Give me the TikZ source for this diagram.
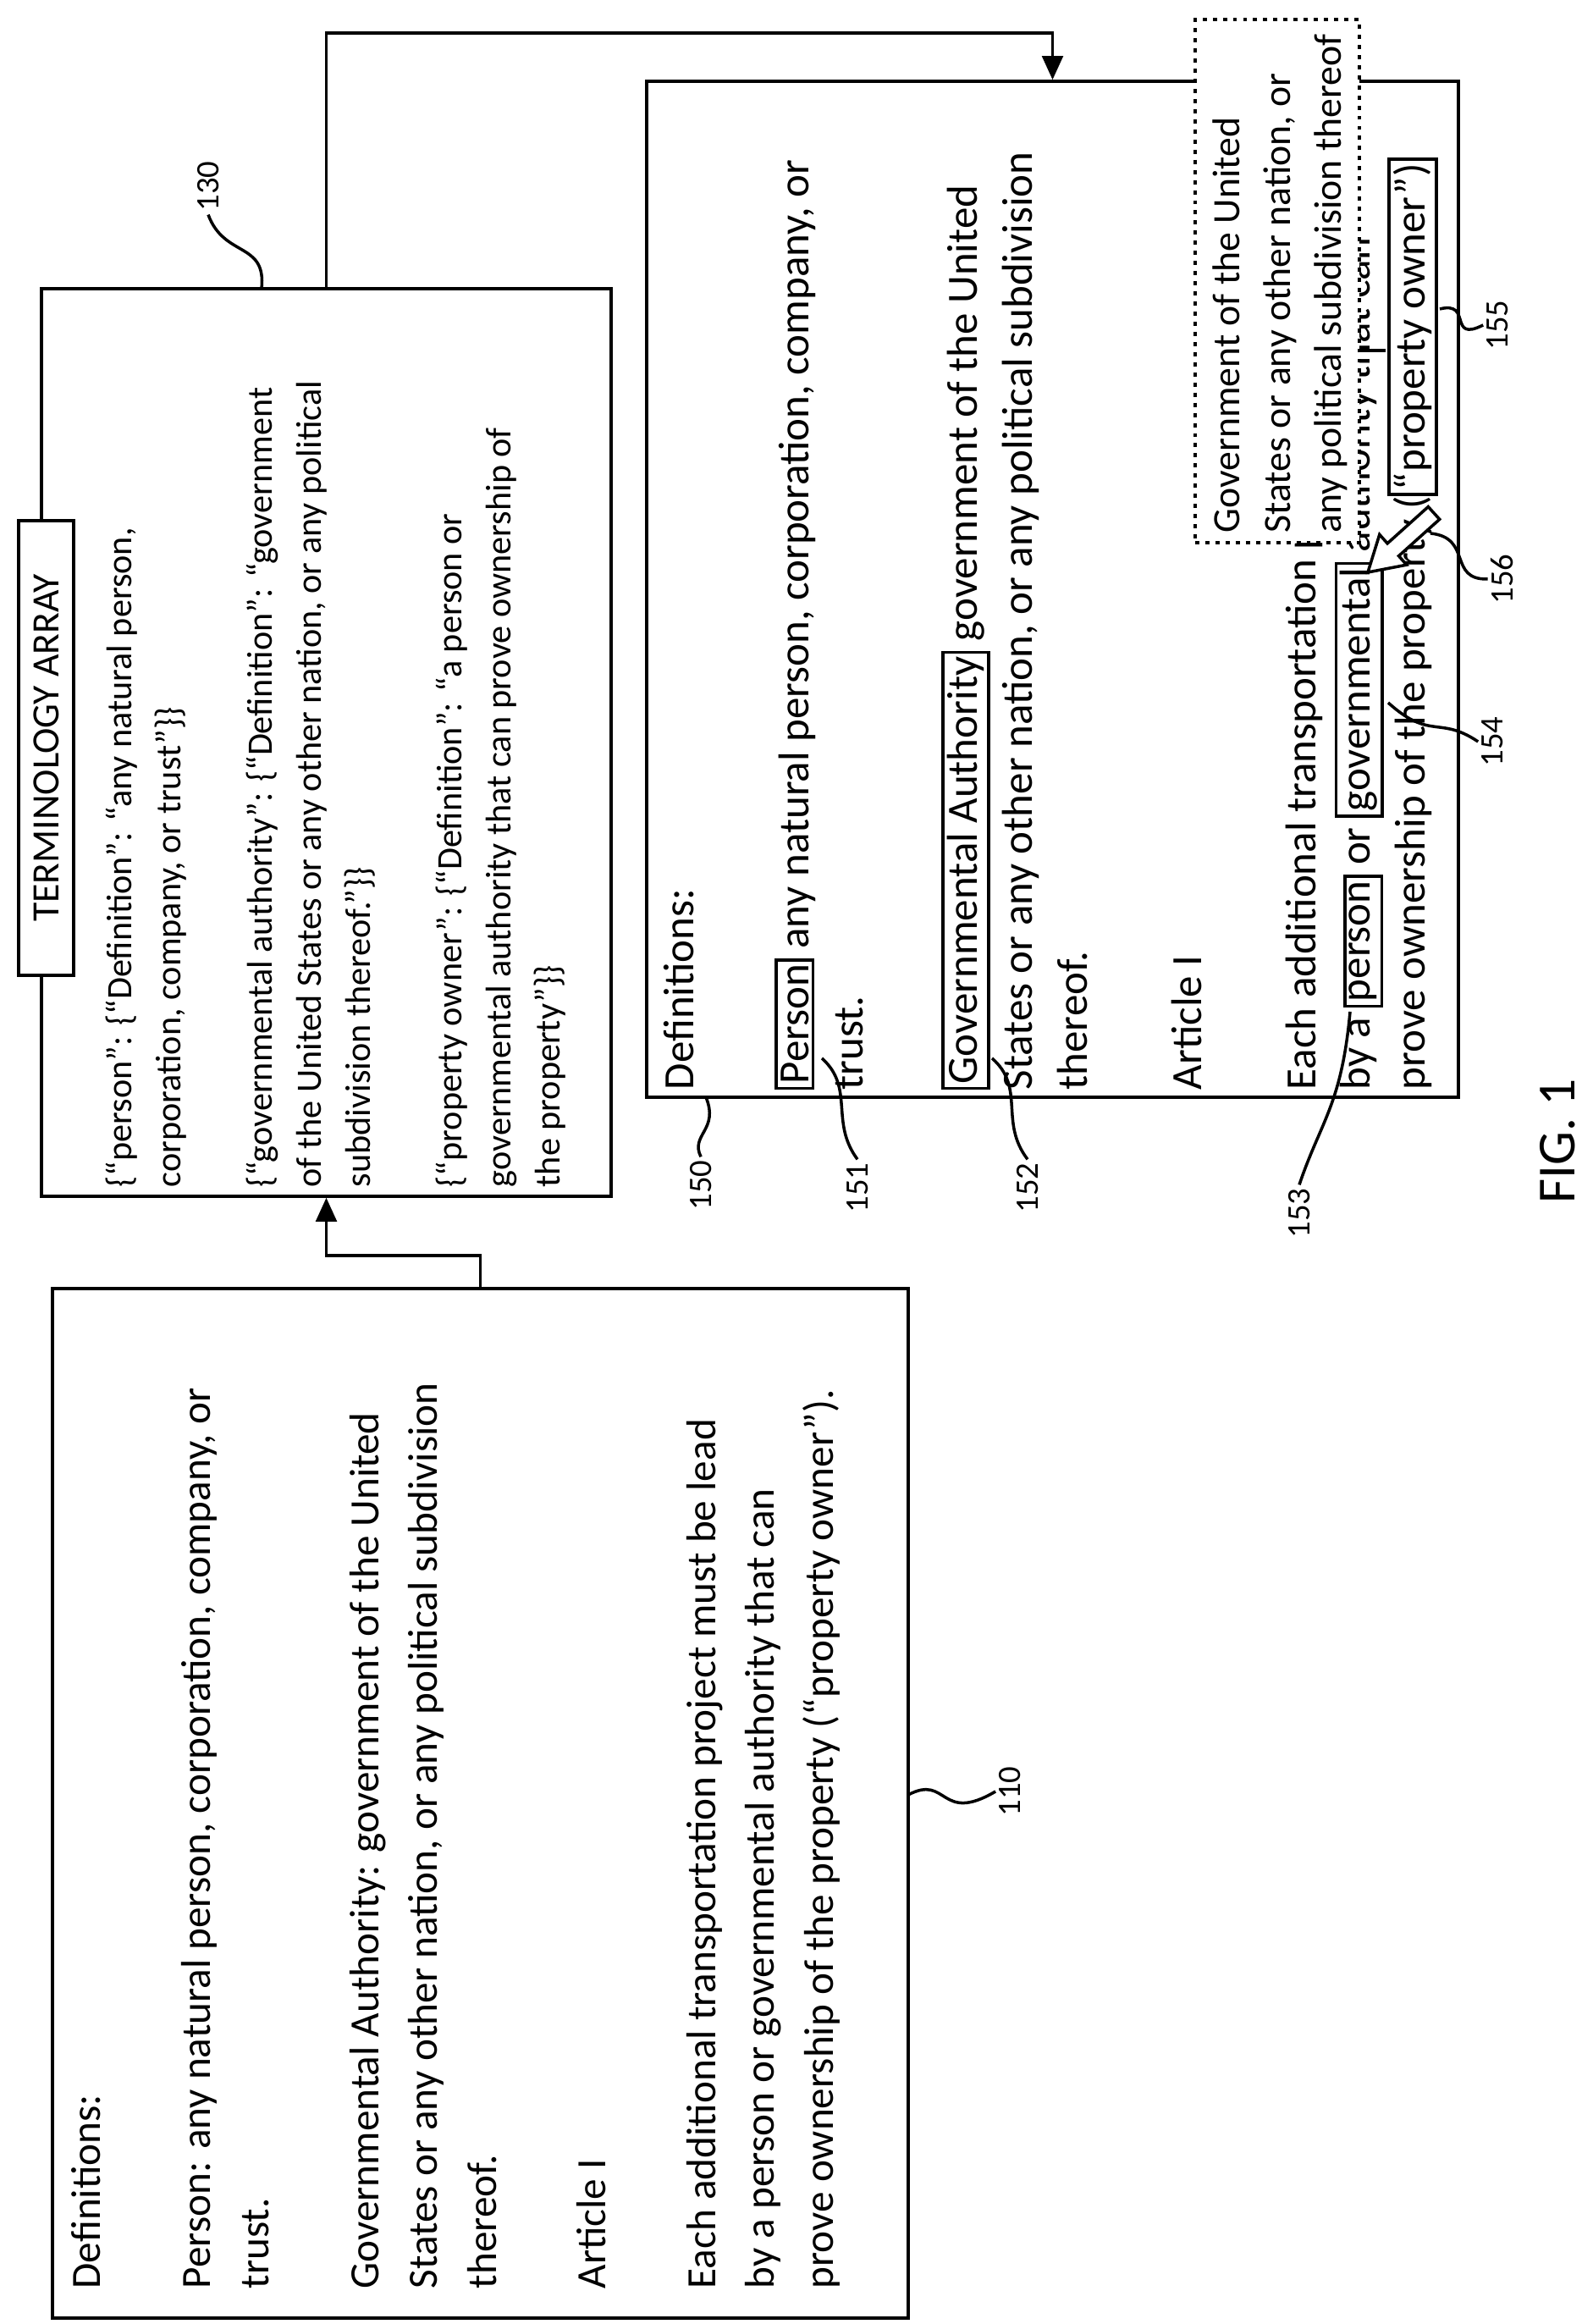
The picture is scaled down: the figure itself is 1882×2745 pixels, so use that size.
\documentclass[tikz,border=0pt]{standalone}
\usepackage{fontspec}
\setmainfont{Carlito}
\usetikzlibrary{fit,arrows.meta}
\begin{document}
\begin{tikzpicture}[x=0.01cm,y=0.01cm,
  box/.style={draw,line width=1pt,inner sep=0pt},
  popbox/.style={draw,dotted,line width=1.4pt,fill=white,inner sep=0pt},
  txt/.style={rotate=90,anchor=north west,align=left,inner sep=0pt},
  lbl/.style={rotate=90,inner sep=1pt,font=\fontsize{11}{12}\selectfont},
  lead/.style={line width=1pt},
  conn/.style={line width=1pt,-{Triangle[length=8pt,width=7pt]}}]
\useasboundingbox (0,0) rectangle (1882,2745);
\fboxrule=1pt \fboxsep=1pt
% box 110
\node[box,fit={(62,7)(1073,1223)}] (b110) {};
\node[txt,font=\fontsize{14}{19.8}\selectfont] (t110) at (84,41) {Definitions:\\[17pt]
Person: any natural person, corporation, company, or\\
trust.\\[17pt]
Governmental Authority: government of the United\\
States or any other nation, or any political subdivision\\
thereof.\\[17pt]
Article I\\[17pt]
Each additional transportation project must be lead\\
by a person or governmental authority that can\\
prove ownership of the property (“property owner”).};
% box 130
\node[box,fit={(49,1332)(722,2404)}] (b130) {};
\node[txt,font=\fontsize{12}{16.5}\selectfont] (t130) at (124,1342) {\{“person”: \{“Definition”: “any natural person,\\
corporation, company, or trust”\}\}\\[14.2pt]
\{“governmental authority”: \{“Definition”: “government\\
of the United States or any other nation, or any political\\
subdivision thereof.”\}\}\\[14.2pt]
\{“property owner”: \{“Definition”: “a person or\\
governmental authority that can prove ownership of\\
the property”\}\}};
\node[box,fill=white,rotate=90,minimum width=537*0.01cm,minimum height=65*0.01cm,
  font=\fontsize{13}{15}\selectfont] (term) at (54.5,1861.5) {TERMINOLOGY ARRAY};
% box 150
\node[box,fit={(764,1449)(1723,2649)}] (b150) {};
\node[txt,font=\fontsize{14.5}{18.4}\selectfont] (t150) at (784,1457) {Definitions:\\[20pt]
\fbox{Person} any natural person, corporation, company, or\\
trust.\\[20pt]
\fbox{Governmental Authority} government of the United\\
States or any other nation, or any political subdivision\\
thereof.\\[20pt]
Article I\\[20pt]
Each additional transportation project must be lead\\
by a \fbox{person} or \fbox{governmental} authority that can\\
prove ownership of the property (\fbox{“property owner”)}};
% popup
\node[popbox,fit={(1412,2104)(1606,2722)}] (pop) {};
\node[txt,font=\fontsize{13}{17}\selectfont] (tpop) at (1432,2115) {Government of the United\\
States or any other nation, or\\
any political subdivision thereof};
\coordinate (lk1) at (1606,2331);
\coordinate (lk2) at (1637,2331);
\draw[line width=1pt] (lk1) -- (lk2);
% hollow arrow 156
\draw[line width=1pt,fill=white] (1700.7,2131.6) -- (1652.5,2088.3) -- (1661.8,2077.8) -- (1616,2069)
  -- (1629.8,2113.6) -- (1639.1,2103.1) -- (1687.3,2146.4) -- cycle;
% connectors
\draw[conn] (b110.north) -- ++(0,37) -| (b130.south);
\draw[conn] (b130.north) -- ++(0,300) -| (b150.north);
% labels
\node[lbl] (l110) at (1193,629) {110};
\draw[lead] (1073,625) .. controls (1120,650) and (1110,590) .. (l110.north);
\node[lbl] (l130) at (246,2525) {130};
\draw[lead] (309,2404) .. controls (315,2460) and (265,2440) .. (l130.west);
\node[lbl] (l150) at (828,1345) {150};
\draw[lead] (834,1449) .. controls (850,1410) and (815,1405) .. (l150.east);
\node[lbl] (l151) at (1013,1342) {151};
\draw[lead] (971,1495) .. controls (1010,1460) and (980,1420) .. (l151.east);
\node[lbl] (l152) at (1214,1342) {152};
\draw[lead] (1172,1495) .. controls (1212,1460) and (1180,1420) .. (l152.east);
\node[lbl] (l153) at (1535,1312) {153};
\draw[lead] (1595,1550) .. controls (1585,1440) and (1560,1420) .. (l153.east);
\node[lbl] (l154) at (1763,1869) {154};
\draw[lead] (1640,1915) .. controls (1690,1870) and (1700,1900) .. (l154.north);
\node[lbl] (l155) at (1769,2361) {155};
\draw[lead] (1701,2380) .. controls (1740,2390) and (1710,2340) .. (l155.north);
\node[lbl] (l156) at (1775,2061) {156};
\draw[lead] (1690,2115) .. controls (1740,2110) and (1710,2060) .. (l156.north);
\node[rotate=90,font=\fontsize{18}{20}\selectfont] (fig) at (1840,1397) {FIG. 1};
\end{tikzpicture}
\end{document}
